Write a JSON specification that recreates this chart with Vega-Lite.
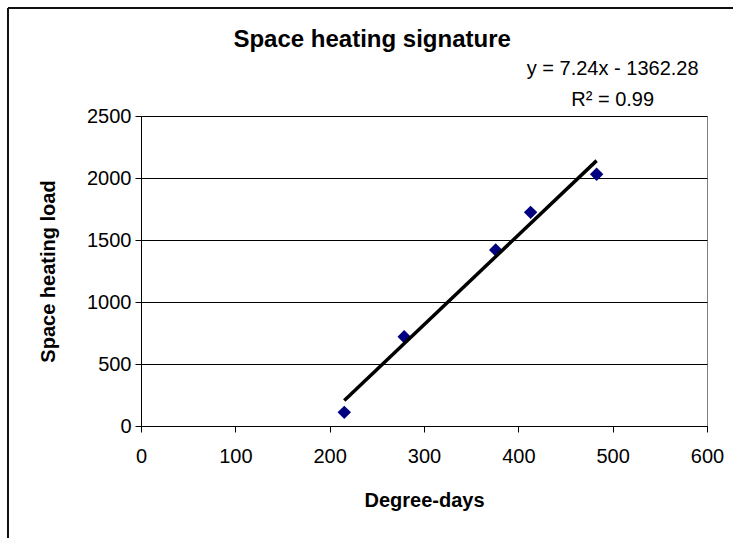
{
  "$schema": "https://vega.github.io/schema/vega-lite/v6.json",
  "width": 566,
  "height": 310,
  "autosize": {"type": "none"},
  "padding": {"left": 141, "top": 116, "right": 26, "bottom": 112},
  "background": "white",
  "config": {
    "view": {"stroke": "#808080", "strokeWidth": 1},
    "font": "Liberation Sans"
  },
  "datasets": {
    "points": [
      {"dd": 215.5, "load": 110},
      {"dd": 279, "load": 720},
      {"dd": 376, "load": 1420},
      {"dd": 413, "load": 1723},
      {"dd": 483, "load": 2030}
    ],
    "trend": [
      {"dd": 215.5, "load": 205},
      {"dd": 483, "load": 2140}
    ],
    "one": [{"k": 1}]
  },
  "layer": [
    {
      "data": {"name": "points"},
      "mark": {"type": "point", "shape": "diamond", "filled": true, "color": "#000080", "size": 180, "opacity": 1},
      "encoding": {
        "x": {
          "field": "dd", "type": "quantitative",
          "scale": {"domain": [0, 600], "nice": false, "zero": true},
          "axis": {
            "title": "Degree-days",
            "values": [0, 100, 200, 300, 400, 500, 600],
            "format": "d",
            "labelFlush": false,
            "labelOverlap": false,
            "grid": false,
            "domainColor": "black",
            "domainWidth": 1,
            "tickColor": "black",
            "tickSize": 6,
            "labelFontSize": 20,
            "labelColor": "black",
            "labelPadding": 14,
            "labelFont": "Liberation Sans",
            "titleFont": "Liberation Sans",
            "titleFontSize": 20,
            "titleFontWeight": "bold",
            "titleColor": "black",
            "titlePadding": 24
          }
        },
        "y": {
          "field": "load", "type": "quantitative",
          "scale": {"domain": [0, 2500], "nice": false},
          "axis": {
            "title": "Space heating load",
            "values": [0, 500, 1000, 1500, 2000, 2500],
            "format": "d",
            "labelFlush": false,
            "labelOverlap": false,
            "grid": true,
            "gridColor": "black",
            "gridWidth": 1,
            "gridOpacity": 1,
            "domainColor": "black",
            "domainWidth": 1,
            "tickColor": "black",
            "tickSize": 6,
            "labelFontSize": 20,
            "labelColor": "black",
            "labelPadding": 4,
            "labelFont": "Liberation Sans",
            "titleFont": "Liberation Sans",
            "titleFontSize": 20,
            "titleFontWeight": "bold",
            "titleColor": "black",
            "titlePadding": 28
          }
        }
      }
    },
    {
      "data": {"name": "trend"},
      "mark": {"type": "line", "color": "black", "strokeWidth": 3.5},
      "encoding": {
        "x": {"field": "dd", "type": "quantitative"},
        "y": {"field": "load", "type": "quantitative"}
      }
    },
    {
      "data": {"name": "one"},
      "mark": {"type": "text", "fontSize": 24, "fontWeight": "bold", "font": "Liberation Sans", "color": "black", "align": "center", "baseline": "middle", "clip": false},
      "encoding": {
        "x": {"datum": 245},
        "y": {"datum": 3113},
        "text": {"value": "Space heating signature"}
      }
    },
    {
      "data": {"name": "one"},
      "mark": {"type": "text", "fontSize": 20, "font": "Liberation Sans", "color": "black", "align": "center", "baseline": "middle", "clip": false},
      "encoding": {
        "x": {"datum": 500},
        "y": {"datum": 2879},
        "text": {"value": "y = 7.24x - 1362.28"}
      }
    },
    {
      "data": {"name": "one"},
      "mark": {"type": "text", "fontSize": 20, "font": "Liberation Sans", "color": "black", "align": "center", "baseline": "middle", "clip": false},
      "encoding": {
        "x": {"datum": 500},
        "y": {"datum": 2629},
        "text": {"value": "R² = 0.99"}
      }
    },
    {
      "data": {"name": "one"},
      "mark": {"type": "rule", "color": "#111111", "strokeWidth": 2, "clip": false},
      "encoding": {
        "x": {"datum": -141},
        "x2": {"datum": 640},
        "y": {"datum": 3371}
      }
    },
    {
      "data": {"name": "one"},
      "mark": {"type": "rule", "color": "#111111", "strokeWidth": 2, "clip": false},
      "encoding": {
        "x": {"datum": -141},
        "y": {"datum": 3371},
        "y2": {"datum": -1000}
      }
    }
  ]
}
